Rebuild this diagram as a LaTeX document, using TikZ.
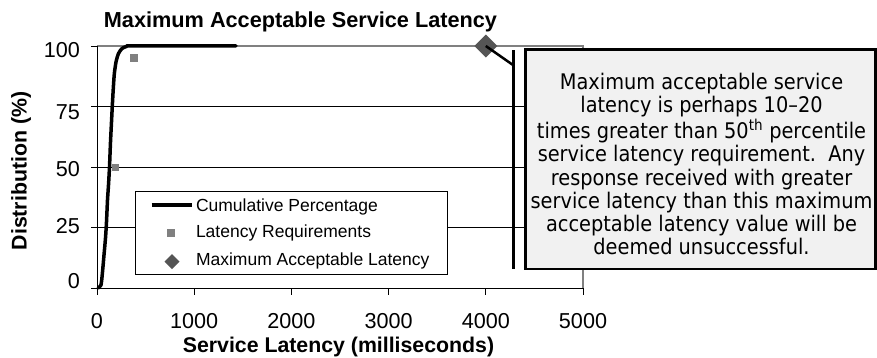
\documentclass[tikz,border=0pt]{standalone}
\usepackage{fontspec}
\usepackage{graphicx}
\setmainfont{Liberation Sans}
\newfontfamily\calloutfont{DejaVu Sans}
\usetikzlibrary{shapes.geometric}
\definecolor{markgray}{RGB}{128,128,128}
\definecolor{diagray}{RGB}{85,85,85}
\definecolor{boxfill}{RGB}{241,241,241}
\definecolor{bordergray}{RGB}{128,128,128}
\begin{document}
\begin{tikzpicture}[x=1pt,y=-1pt,
  every node/.style={inner sep=0pt, outer sep=0pt},
  ticklabel/.style={font=\fontsize{21.6}{24}\selectfont},
  axtitle/.style={font=\fontsize{21.3}{24}\selectfont\bfseries},
  legtext/.style={font=\fontsize{17.5}{20}\selectfont, anchor=base west},
  gridline/.style={black, line width=1pt},
  borderline/.style={bordergray, line width=1.2pt},
  sqmark/.style={rectangle, fill=markgray, minimum size=7.5pt},
  dmark/.style={diamond, aspect=1, fill=diagray},
  curve/.style={black, line width=3.5pt, line join=round, line cap=round}]
\useasboundingbox (0,0) rectangle (877,357);

% title
\node[font=\fontsize{21.7}{24}\selectfont\bfseries, anchor=base] (title) at (300.5,27) {Maximum Acceptable Service Latency};

% plot border and gridlines
\draw[borderline] (97,46) -- (583,46) -- (583,288);
\foreach \yy in {106.5,167,227.5} \draw[gridline] (97,\yy) -- (583,\yy);
% axes
\draw[black, line width=1pt] (97,46) -- (97,288) -- (583,288);
\foreach \yy in {46,106.5,167,227.5,288} \draw[black, line width=1pt] (91,\yy) -- (97,\yy);
\foreach \xx in {97,194.2,291.4,388.6,485.8,583} \draw[black, line width=1pt] (\xx,288) -- (\xx,295);

% tick labels
\node[ticklabel, anchor=east] (y100) at (80,50) {100};
\node[ticklabel, anchor=east] (y75) at (80,112) {75};
\node[ticklabel, anchor=east] (y50) at (80,169) {50};
\node[ticklabel, anchor=east] (y25) at (80,226) {25};
\node[ticklabel, anchor=east] (y0) at (80,281) {0};
\node[ticklabel, anchor=base] (x0) at (97,328.3) {0};
\node[ticklabel, anchor=base] (x1) at (194.2,328.3) {1000};
\node[ticklabel, anchor=base] (x2) at (291.4,328.3) {2000};
\node[ticklabel, anchor=base] (x3) at (388.6,328.3) {3000};
\node[ticklabel, anchor=base] (x4) at (485.8,328.3) {4000};
\node[ticklabel, anchor=base] (x5) at (583,328.3) {5000};

% axis titles
\node[axtitle, anchor=base] (xtitle) at (338.5,352) {Service Latency (milliseconds)};
\node[axtitle, rotate=90, anchor=base] (ytitle) at (26.7,171) {Distribution (\%)};

% legend
\node[draw=black, line width=1pt, fill=white, anchor=north west, minimum width=312.5pt, minimum height=82.5pt] (legend) at (135,191.5) {};
\draw[curve, line cap=butt] (151.7,205) -- (191.7,205);
\node[legtext] (leg1) at (196,211) {Cumulative Percentage};
\node[sqmark] (legsq) at (171,233) {};
\node[legtext] (leg2) at (196,237.7) {Latency Requirements};
\node[dmark, minimum size=15pt] (legdm) at (172,261.5) {};
\node[legtext] (leg3) at (196,265) {Maximum Acceptable Latency};

% cumulative curve
\draw[curve] plot[smooth, tension=0.4] coordinates {(98,288) (101,285) (102.5,272) (104,255) (105.5,238) (106.5,222) (107.5,200) (108.5,185) (109.5,167) (110.5,142) (111.5,122) (112.3,106) (113.2,90) (114.3,74) (116,62) (118.5,53.5) (122,48.5) (127,46.3) (134,45.8) (236,45.8)};

% latency requirement markers
\node[sqmark] (req50) at (115.7,167.5) {};
\node[sqmark, minimum size=8pt] (req95) at (134,57.5) {};

% maximum acceptable latency marker
\node[dmark, minimum size=23pt] (maxpt) at (485.8,46) {};

% callout
\node[draw=black, line width=2.5pt, fill=boxfill, anchor=north west, minimum width=350pt, minimum height=219.5pt] (callout) at (525.5,49.5) {};
\coordinate (barT) at (513.5,50);
\coordinate (barB) at (513.5,269);
\coordinate (leadEnd) at (513,65);
\draw[black, line width=3pt] (barT) -- (barB);
\draw[black, line width=2.5pt] (maxpt.center) -- (leadEnd);
\node[anchor=base] (ctext) at (701.5,89.3) {\scalebox{0.9}[1]{\calloutfont\fontsize{21.5}{23.2}\selectfont\begin{tabular}[t]{@{}c@{}}
Maximum acceptable service\\
latency is perhaps 10–20\\
times greater than 50\textsuperscript{th} percentile\\
service latency requirement.\ \ Any\\
response received with greater\\
service latency than this maximum\\
acceptable latency value will be\\
deemed unsuccessful.
\end{tabular}}};
\end{tikzpicture}
\end{document}
